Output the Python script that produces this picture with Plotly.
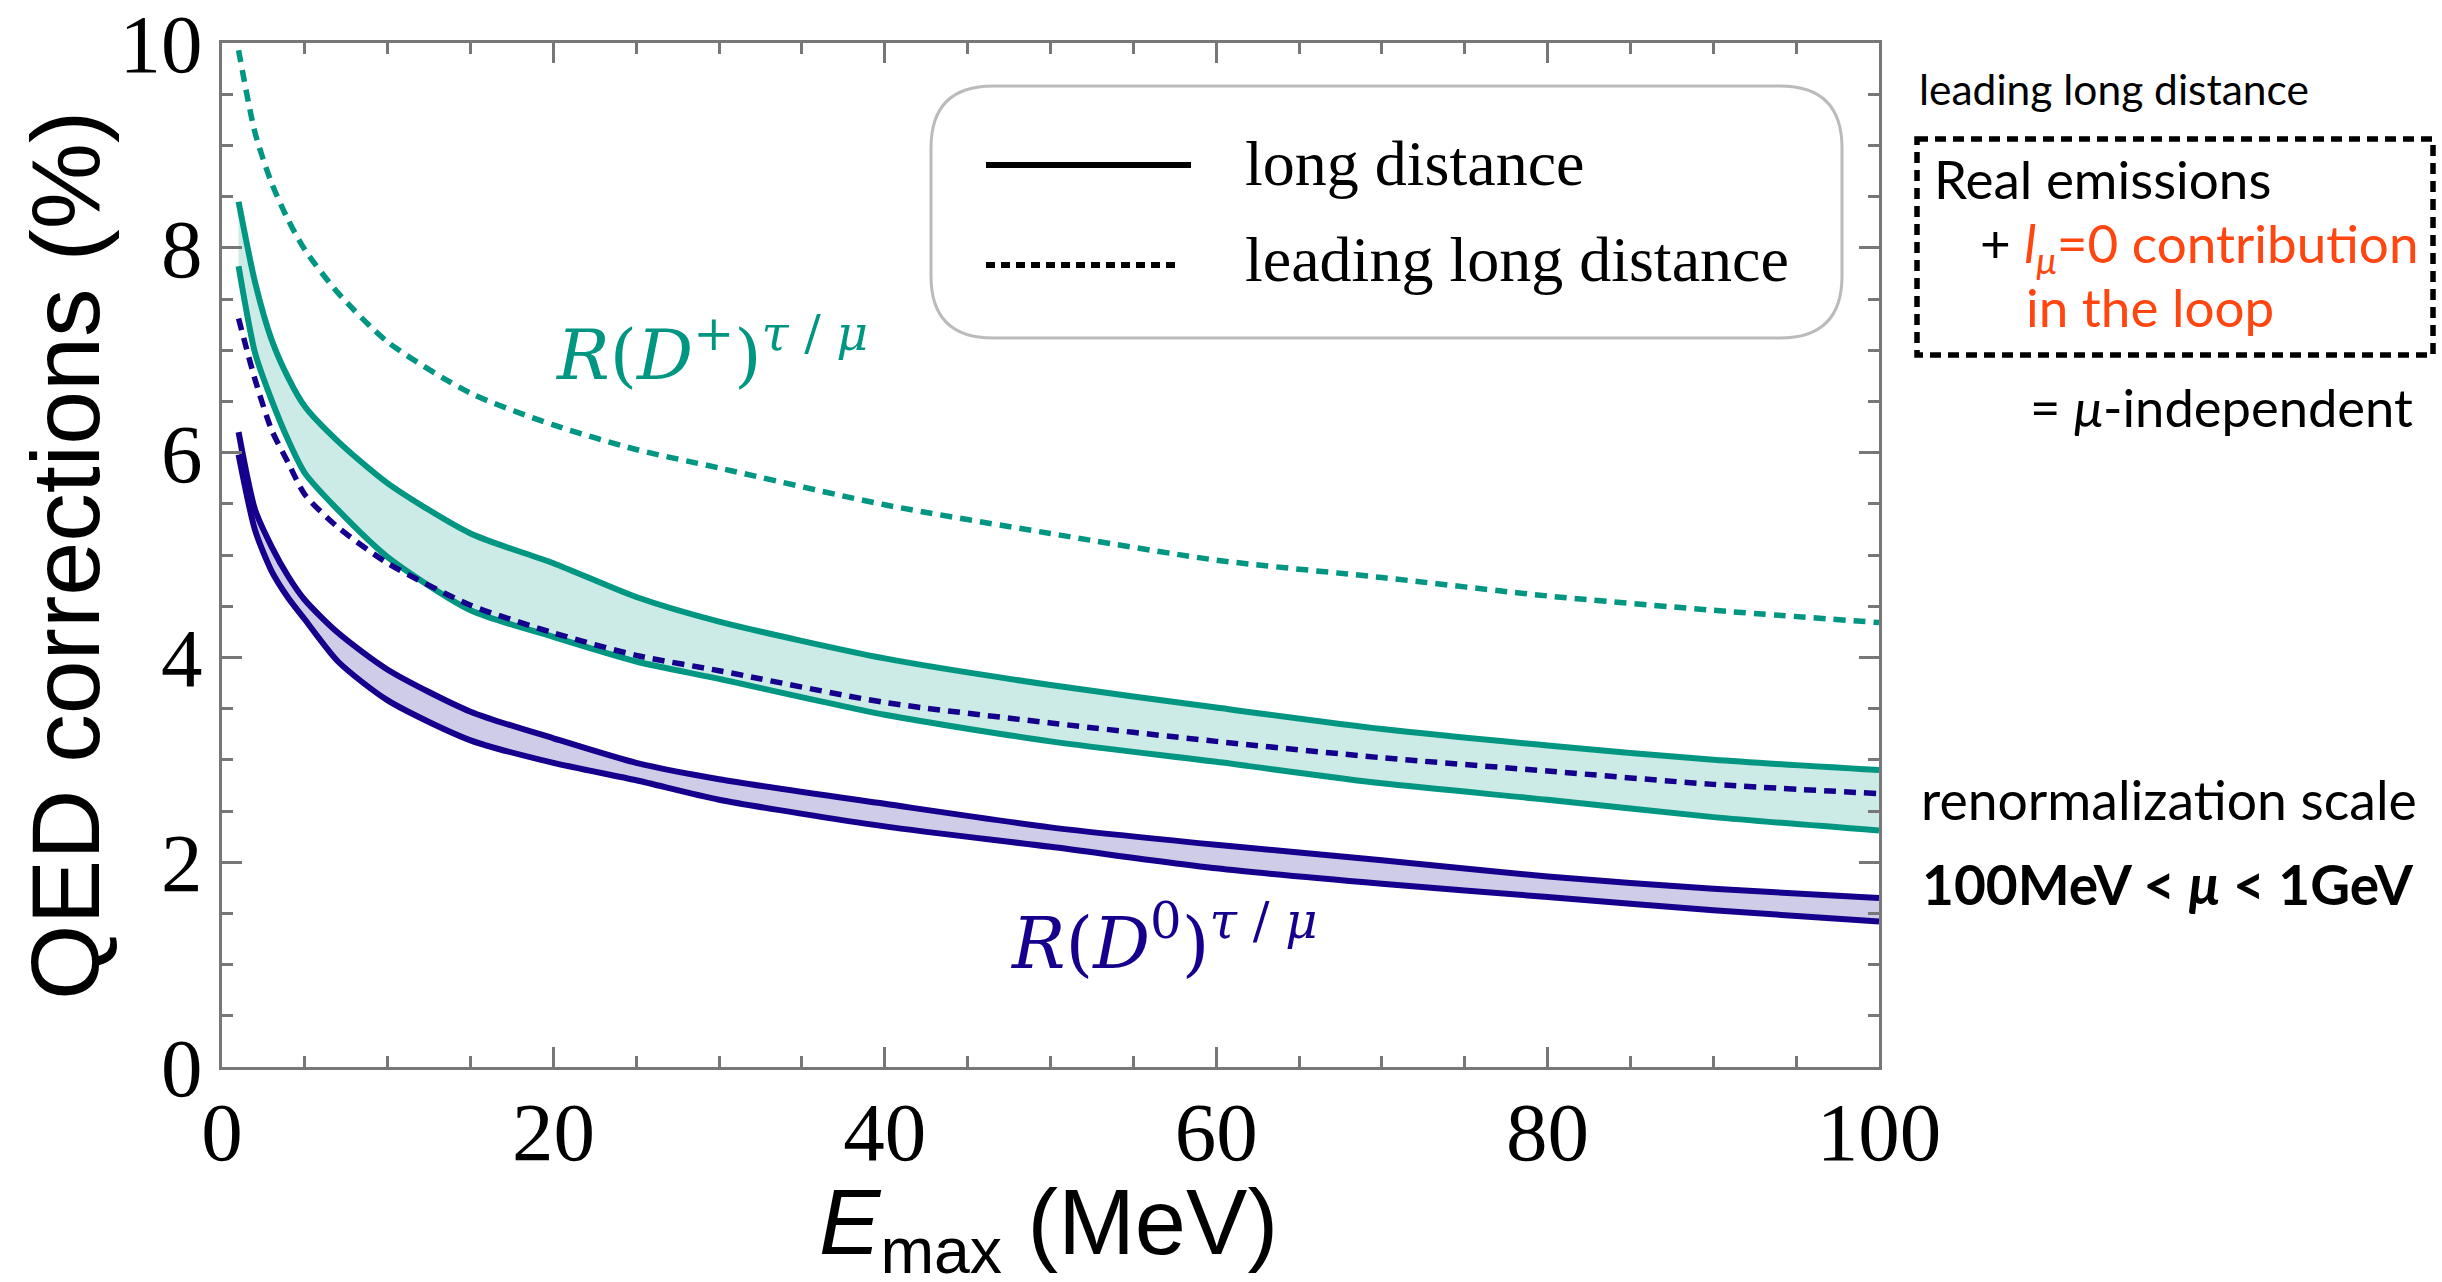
import plotly.graph_objects as go

# ---------------- data ----------------
E_MeV = [1, 2, 3, 4, 5, 7, 10, 15, 20, 25, 30, 40, 50, 60, 70, 80, 90, 100]

dplus_ld_hi = [8.45, 7.66, 7.10, 6.73, 6.45, 6.11, 5.70, 5.21, 4.92, 4.59, 4.35, 3.99, 3.73, 3.51, 3.30, 3.14, 3.00, 2.90]
dplus_ld_lo = [7.82, 6.97, 6.51, 6.12, 5.80, 5.44, 4.98, 4.46, 4.20, 3.96, 3.79, 3.44, 3.18, 2.98, 2.77, 2.61, 2.44, 2.31]
dplus_lld = [9.93, 9.12, 8.63, 8.27, 7.98, 7.56, 7.08, 6.58, 6.27, 6.03, 5.85, 5.49, 5.21, 4.95, 4.78, 4.60, 4.46, 4.34]

dzero_ld_hi = [6.20, 5.44, 5.08, 4.79, 4.56, 4.24, 3.88, 3.47, 3.21, 2.97, 2.81, 2.57, 2.34, 2.17, 2.02, 1.86, 1.74, 1.65]
dzero_ld_lo = [5.98, 5.24, 4.84, 4.58, 4.37, 3.96, 3.58, 3.19, 2.97, 2.80, 2.61, 2.35, 2.15, 1.94, 1.79, 1.66, 1.53, 1.42]
dzero_lld = [7.31, 6.71, 6.22, 5.90, 5.59, 5.27, 4.92, 4.51, 4.24, 4.02, 3.87, 3.56, 3.36, 3.18, 3.02, 2.89, 2.76, 2.67]

x_ticks = [0, 20, 40, 60, 80, 100]
y_ticks = [0, 2, 4, 6, 8, 10]

# ---------------- styling ----------------
W, H = 2442, 1282
L, R, T, B = 222, 1879, 43, 1067
TEAL = "#009682"
TEAL_FILL = "#CCEBE6"
NAVY = "#14008C"
NAVY_FILL = "#CFCCE8"
ORANGE = "#FF4510"
AX = "#777777"
SERIF = "Liberation Serif, Times New Roman, serif"
MATH = "DejaVu Serif, serif"
SANS = "Liberation Sans, Arial, sans-serif"
OPT = "Lato, Noto Sans, sans-serif"
SMOOTH = 0.7


def px(x):
    return (x - L) / (R - L)


def py(y):
    return (B - y) / (B - T)


fig = go.Figure()

# bands (fills)
for lo, hi, fc in [(dplus_ld_lo, dplus_ld_hi, TEAL_FILL), (dzero_ld_lo, dzero_ld_hi, NAVY_FILL)]:
    fig.add_trace(go.Scatter(x=E_MeV, y=lo, mode="lines",
                             line=dict(width=0, color=fc, shape="spline", smoothing=SMOOTH),
                             hoverinfo="skip", showlegend=False))
    fig.add_trace(go.Scatter(x=E_MeV, y=hi, mode="lines",
                             line=dict(width=0, color=fc, shape="spline", smoothing=SMOOTH),
                             fill="tonexty", fillcolor=fc, hoverinfo="skip", showlegend=False))

# lines
for ys, col, dash, wd in [
    (dplus_lld, TEAL, "12px,8px", 5.5),
    (dplus_ld_hi, TEAL, "solid", 6),
    (dplus_ld_lo, TEAL, "solid", 6),
    (dzero_lld, NAVY, "12px,8px", 5.5),
    (dzero_ld_hi, NAVY, "solid", 6),
    (dzero_ld_lo, NAVY, "solid", 6),
]:
    fig.add_trace(go.Scatter(x=E_MeV, y=ys, mode="lines",
                             line=dict(color=col, width=wd, dash=dash, shape="spline", smoothing=SMOOTH),
                             showlegend=False))

axis_common = dict(
    showline=True, linecolor=AX, linewidth=3, mirror="ticks",
    ticks="inside", ticklen=20, tickwidth=2.5, tickcolor=AX,
    showgrid=False, zeroline=False, ticklabeloverflow="allow", automargin=False,
    tickfont=dict(family=SERIF, size=83, color="black"),
)

fig.update_layout(
    width=W, height=H,
    margin=dict(l=L, r=W - R, t=T, b=H - B, autoexpand=False),
    paper_bgcolor="white", plot_bgcolor="white",
    showlegend=False,
    xaxis=dict(range=[0, 100], tickvals=x_ticks, ticktext=[str(v) for v in x_ticks],
               minor=dict(ticks="inside", dtick=5, tick0=0, ticklen=11, tickwidth=2.5, tickcolor=AX),
               ticklabelstandoff=-10,
               **axis_common),
    yaxis=dict(range=[0, 10], tickvals=y_ticks, ticktext=[str(v) for v in y_ticks],
               minor=dict(ticks="inside", dtick=0.5, tick0=0, ticklen=11, tickwidth=2.5, tickcolor=AX),
               **axis_common),
)

shapes = []
# legend rounded box
x1, x2, y1, y2, r = 931, 1842, 86, 338, 62
pts = lambda a, b: f"{px(a):.5f},{py(b):.5f}"
path = (f"M {pts(x1 + r, y1)} L {pts(x2 - r, y1)} Q {pts(x2, y1)} {pts(x2, y1 + r)} "
        f"L {pts(x2, y2 - r)} Q {pts(x2, y2)} {pts(x2 - r, y2)} "
        f"L {pts(x1 + r, y2)} Q {pts(x1, y2)} {pts(x1, y2 - r)} "
        f"L {pts(x1, y1 + r)} Q {pts(x1, y1)} {pts(x1 + r, y1)} Z")
shapes.append(dict(type="path", xref="paper", yref="paper", path=path,
                   line=dict(color="#BBBBBB", width=3), fillcolor="white", layer="above"))
shapes.append(dict(type="line", xref="paper", yref="paper", x0=px(986), x1=px(1191), y0=py(165), y1=py(165),
                   line=dict(color="black", width=6)))
shapes.append(dict(type="line", xref="paper", yref="paper", x0=px(986), x1=px(1180), y0=py(265), y1=py(265),
                   line=dict(color="black", width=6, dash="9px,6px")))
# dashed box on the right
shapes.append(dict(type="rect", xref="paper", yref="paper", x0=px(1917), x1=px(2433), y0=py(139), y1=py(355),
                   line=dict(color="black", width=5.5, dash="11px,7px"), fillcolor="rgba(0,0,0,0)"))

ann = []


def text(x, y, s, size, family=OPT, color="black", xanchor="left", angle=0):
    ann.append(dict(x=px(x), y=py(y), xref="paper", yref="paper", text=s, showarrow=False,
                    xanchor=xanchor, yanchor="middle", textangle=angle,
                    font=dict(family=family, size=size, color=color)))


# axis titles
text(65, 556, "QED corrections (%)", 97, SANS, xanchor="center", angle=-90)
text(1048, 1229, "<i>E</i><sub>max</sub> (MeV)", 92, SANS, xanchor="center")

# legend texts
text(1243, 163, "long distance", 64, SERIF)
text(1243, 259, "leading long distance", 64, SERIF)

# curve labels
SUP = "<sup><i>τ</i> / <i>μ</i></sup>"
text(553, 350, "<i>R</i>(<i>D</i><sup>+</sup>)" + SUP, 70, MATH, TEAL)
text(1008, 938, "<i>R</i>(<i>D</i><sup>0</sup>)" + SUP, 71, MATH, NAVY)

# right-side notes
text(1917, 88, "leading long distance", 42.5)
text(1932, 178, "Real emissions", 53)
text(1978, 246, f"+ <span style='color:{ORANGE}'><i>l</i><sub><i>μ</i></sub>=0 contribution</span>", 53)
text(2024, 306, "in the loop", 53, color=ORANGE)
text(2028, 406, "= <i>μ</i>-independent", 52.5)
text(1919, 799, "renormalization scale", 53.5)
text(1920, 884, "<b>100MeV &lt; <i>μ</i> &lt; 1GeV</b>", 55)

fig.update_layout(shapes=shapes, annotations=ann)
fig.write_html("out.html")
